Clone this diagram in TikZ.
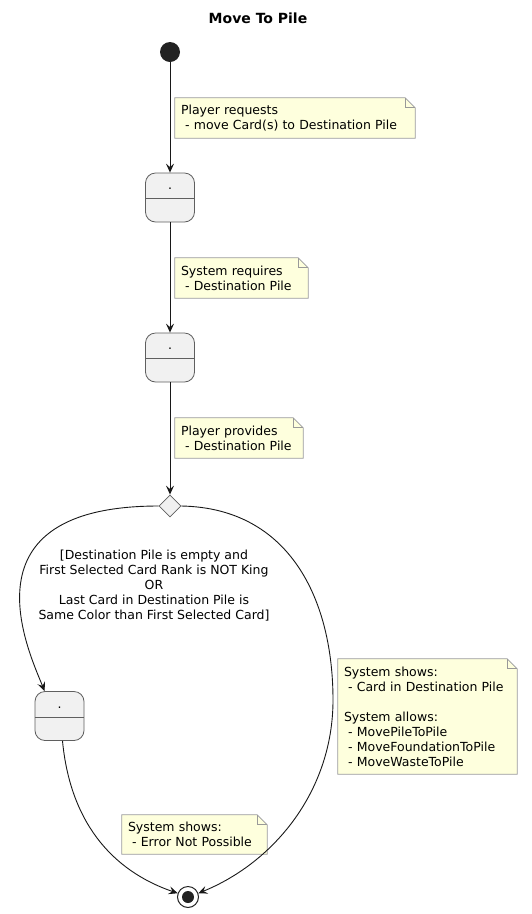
\documentclass[tikz,border=0pt]{standalone}
\usepackage{fontspec}
\setmainfont{DejaVu Sans}
\usetikzlibrary{arrows.meta,shapes.geometric,positioning}
\definecolor{notefill}{HTML}{FEFFDD}
\definecolor{noteline}{HTML}{999999}
\definecolor{statefill}{HTML}{F1F1F1}
\definecolor{stateline}{HTML}{5F5F5F}
\definecolor{ink}{HTML}{181818}
\definecolor{blob}{HTML}{222222}
\tikzset{
    title/.style = {
        font=\fontsize{14pt}{16pt}\selectfont\bfseries,
        },
    note box/.style = {
        fill = notefill,
        align = left,
        inner xsep = 6pt,
        inner ysep = 0pt,
        font = \fontsize{12.5pt}{15pt}\selectfont,
        },
    note line/.style = {
        draw = noteline,
        line width = 0.8pt,
        },
    state box/.style = {
        draw = stateline,
        fill = statefill,
        rounded corners = 10pt,
        minimum width = 49pt,
        minimum height = 49pt,
        line width = 0.8pt,
        },
    state label/.style = {
        anchor = base,
        inner sep = 0pt,
        font = \fontsize{12.5pt}{15pt}\selectfont,
        },
    choice/.style = {
        diamond,
        draw = stateline,
        fill = statefill,
        minimum width = 22pt,
        minimum height = 22pt,
        inner sep = 0pt,
        line width = 0.8pt,
        },
    start dot/.style = {
        circle,
        fill = blob,
        minimum size = 20pt,
        inner sep = 0pt,
        },
    end ring/.style = {
        circle,
        draw = blob,
        fill = white,
        line width = 1pt,
        minimum size = 21pt,
        inner sep = 0pt,
        },
    end dot/.style = {
        circle,
        fill = blob,
        minimum size = 12pt,
        inner sep = 0pt,
        },
    flow/.style = {
        draw = ink,
        line width = 0.9pt,
        -{Stealth[length=9pt, width=8pt, inset=3.5pt]},
        },
    guard/.style = {
        align = center,
        font = \fontsize{12.5pt}{15pt}\selectfont,
        },
}
% note outline with the folded corner
\newcommand{\notefold}[1]{%
    \fill[white] ([xshift=-10pt]#1.north east) -- (#1.north east) -- ([yshift=-10pt]#1.north east) -- cycle;
    \draw[note line] (#1.north west) -- ([xshift=-10pt]#1.north east) -- ([yshift=-10pt]#1.north east)
        -- (#1.south east) -- (#1.south west) -- cycle;
    \draw[note line] ([xshift=-10pt]#1.north east) |- ([yshift=-10pt]#1.north east);
}

\begin{document}
\begin{tikzpicture}[x=1pt, y=-1pt]
    \useasboundingbox (0,0) rectangle (531,914);

    \node[title] (caption) at (258,18) {Move To Pile};

    \node[start dot] (start) at (170,52) {};
    \node[state box] (s1) at (170,197.5) {};
    \node[state box] (s2) at (170,357.5) {};
    \node[choice] (choice) at (170,506) {};
    \node[state box] (s3) at (59.5,716) {};
    \node[end ring] (stop) at (188,897) {};
    \node[end dot] (stopdot) at (stop) {};

    \foreach \s in {s1,s2,s3} {
        \node[state label] (\s dot) at ([yshift=-17pt]\s.north) {.};
        \draw[stateline, line width=0.8pt] ([yshift=-26pt]\s.north west) -- ([yshift=-26pt]\s.north east);
    }

    % notes
    \node[note box, text width=228pt, minimum height=40pt] (n1) at (295,118)
        {Player requests\\\ - move Card(s) to Destination Pile};
    \node[note box, text width=121pt, minimum height=40pt] (n2) at (241.5,278)
        {System requires\\\ - Destination Pile};
    \node[note box, text width=116pt, minimum height=40pt] (n3) at (239,438)
        {Player provides\\\ - Destination Pile};
    \node[note box, text width=167pt, minimum height=115pt] (n4) at (427.5,716.5)
        {System shows:\\\ - Card in Destination Pile\\[15pt]System allows:\\\ - MovePileToPile\\\ - MoveFoundationToPile\\\ - MoveWasteToPile};
    \node[note box, text width=133pt, minimum height=39pt] (n5) at (194.5,834.5)
        {System shows:\\\ - Error Not Possible};
    \foreach \n in {n1,n2,n3,n4,n5} {
        \notefold{\n}
    }

    % transitions
    \draw[flow] (start) -- (s1);
    \draw[flow] (s1) -- (s2);
    \draw[flow] (s2) -- (choice);
    \draw[flow] (choice.west) .. controls (-40,506) and (28,650) .. ([xshift=10pt]s3.north west);
    \draw[flow] ([xshift=3pt]s3.south) .. controls (70,820) and (110,870) .. (stop.160);
    \coordinate (rbend) at (333,700);
    \draw[flow] (choice.east) .. controls (290,508) and (333,600) .. (rbend)
        .. controls (333,790) and (275,862) .. (stop.20);

    \node[guard] (cond) at (154,586)
        {[Destination Pile is empty and\\First Selected Card Rank is NOT King\\OR\\Last Card in Destination Pile is\\Same Color than First Selected Card]};
\end{tikzpicture}
\end{document}
